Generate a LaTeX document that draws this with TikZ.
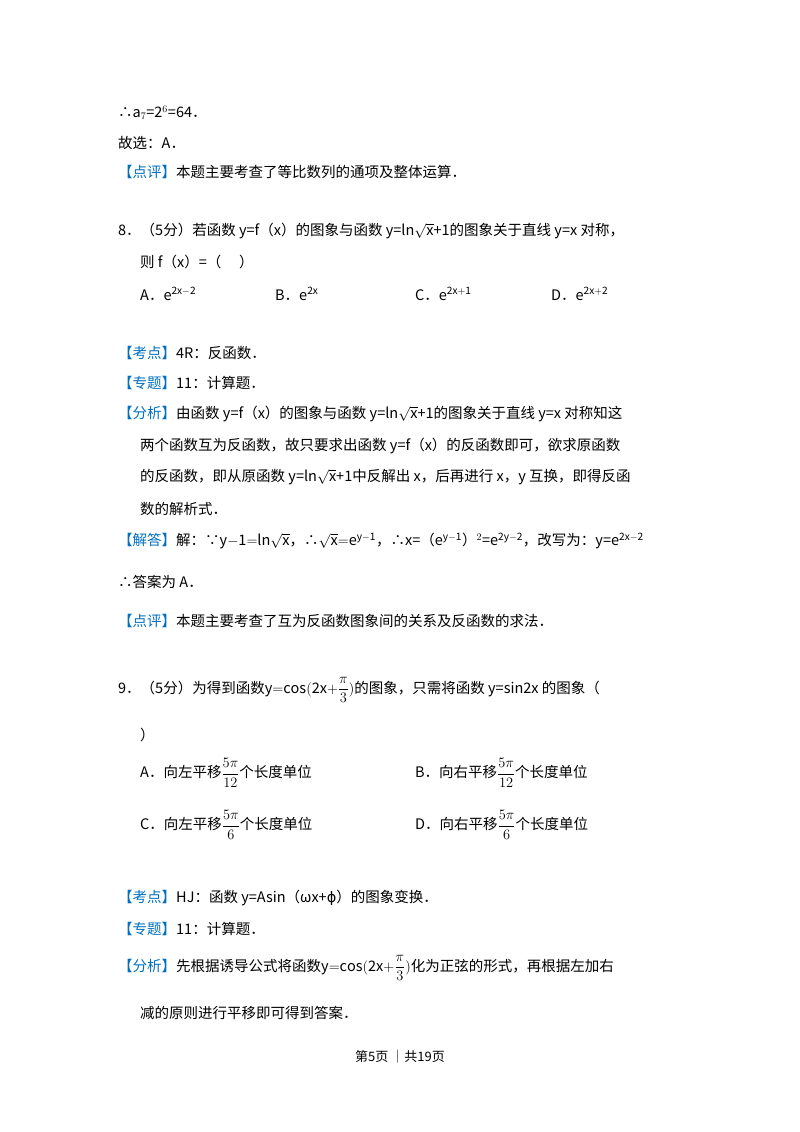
\documentclass[tikz,border=0pt]{standalone}
\usepackage{fontspec}
\setmainfont{Noto Sans CJK SC}
\newfontfamily\dejavu{DejaVu Sans}
\definecolor{blu}{RGB}{0,112,192}
\newcommand{\kb}[1]{\textcolor{blu}{【#1】}}
\newcommand{\df}[2]{{\displaystyle\frac{#1}{#2}}}
\begin{document}
\begin{tikzpicture}[x=1pt,y=-1pt,t/.style={anchor=west,inner sep=0,font=\fontsize{14.5}{18}\selectfont}]
\useasboundingbox[fill=white] (0,0) rectangle (800,1132);
\node[t] (l1) at (118,113) {∴a$_7$=2$^6$=64．};
\node[t] (l2) at (118,143) {故选：A．};
\node[t] (l3) at (118,172) {\kb{点评}本题主要考查了等比数列的通项及整体运算．};
\node[t] (q8) at (118,231) {8．（5分）若函数 y=f（x）的图象与函数 y=ln$\sqrt{\mathrm{x}}$+1的图象关于直线 y=x 对称，};
\node[t] (q8b) at (140,262) {则 f（x）=（\quad\ ）};
\node[t] (oA) at (140,294) {A．e$^{\mathrm{2x-2}}$};
\node[t] (oB) at (275,294) {B．e$^{\mathrm{2x}}$};
\node[t] (oC) at (415,294) {C．e$^{\mathrm{2x+1}}$};
\node[t] (oD) at (551,294) {D．e$^{\mathrm{2x+2}}$};
\node[t] (k1) at (118,353) {\kb{考点}4R：反函数．};
\node[t] (z1) at (118,383) {\kb{专题}11：计算题．};
\node[t] (f1) at (118,414) {\kb{分析}由函数 y=f（x）的图象与函数 y=ln$\sqrt{\mathrm{x}}$+1的图象关于直线 y=x 对称知这};
\node[t] (f2) at (140,446) {两个函数互为反函数，故只要求出函数 y=f（x）的反函数即可，欲求原函数};
\node[t] (f3) at (140,477) {的反函数，即从原函数 y=ln$\sqrt{\mathrm{x}}$+1中反解出 x，后再进行 x，y 互换，即得反函};
\node[t] (f4) at (140,509) {数的解析式．};
\node[t] (j1) at (118,541) {\kb{解答}解：∵$\mathrm{y{-}1{=}ln}\sqrt{\mathrm{x}}$，∴$\sqrt{\mathrm{x}}{=}\mathrm{e}^{\mathrm{y-1}}$，∴x=（e$^{\mathrm{y-1}}$）$^2$=e$^{\mathrm{2y-2}}$，改写为：y=e$^{\mathrm{2x-2}}$};
\node[t] (a1) at (118,582) {∴答案为 A．};
\node[t] (p2) at (118,621) {\kb{点评}本题主要考查了互为反函数图象间的关系及反函数的求法．};
\node[t] (q9) at (118,690) {9．（5分）为得到函数$\mathrm{y{=}cos(2x{+}}\df{\pi}{3})$的图象，只需将函数 y=sin2x 的图象（};
\node[t] (q9b) at (140,735) {）};
\node[t] (nA) at (140,773) {A．向左平移$\df{5\pi}{12}$个长度单位};
\node[t] (nB) at (415,773) {B．向右平移$\df{5\pi}{12}$个长度单位};
\node[t] (nC) at (140,825) {C．向左平移$\df{5\pi}{6}$个长度单位};
\node[t] (nD) at (415,825) {D．向右平移$\df{5\pi}{6}$个长度单位};
\node[t] (k2) at (118,898) {\kb{考点}HJ：函数 y=Asin（ωx+{\dejavu ϕ}）的图象变换．};
\node[t] (z2) at (118,929) {\kb{专题}11：计算题．};
\node[t] (f5) at (118,968) {\kb{分析}先根据诱导公式将函数$\mathrm{y{=}cos(2x{+}}\df{\pi}{3})$化为正弦的形式，再根据左加右};
\node[t] (f6) at (140,1013) {减的原则进行平移即可得到答案．};
\node[anchor=center,inner sep=0,font=\fontsize{13}{16}\selectfont] (ft) at (400,1057) {第5页 ｜共19页};
\end{tikzpicture}
\end{document}
